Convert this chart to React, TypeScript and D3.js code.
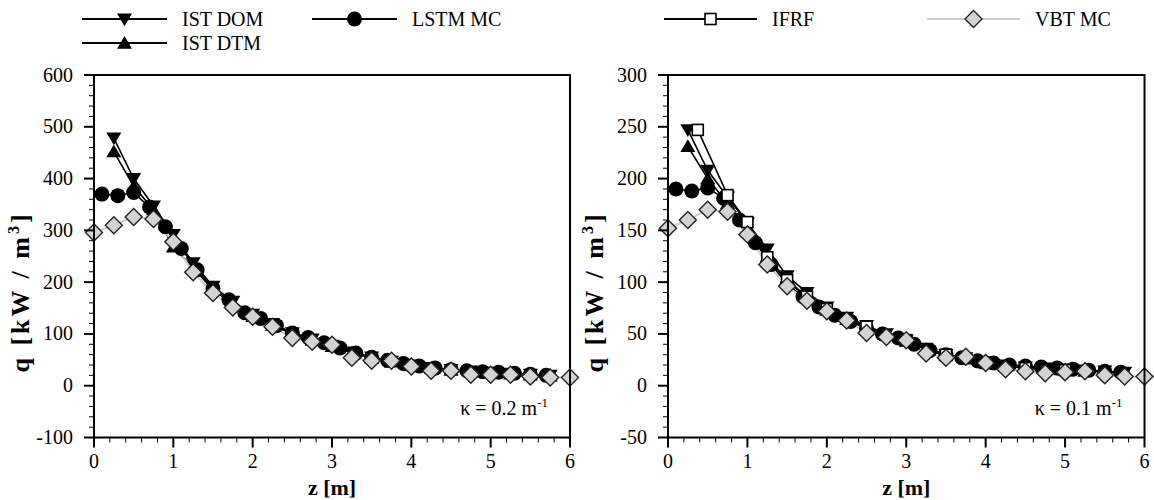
import React from "react";
import * as d3 from "d3";

// ---------- data: left panel (kappa = 0.2) ----------
const zQuarter = [0.25, 0.5, 0.75, 1.0, 1.25, 1.5, 1.75, 2.0, 2.25, 2.5, 2.75, 3.0, 3.25, 3.5, 3.75, 4.0, 4.25, 4.5, 4.75, 5.0, 5.25, 5.5, 5.75];
const zLstm = [0.1, 0.3, 0.5, 0.7, 0.9, 1.1, 1.3, 1.5, 1.7, 1.9, 2.1, 2.3, 2.5, 2.7, 2.9, 3.1, 3.3, 3.5, 3.7, 3.9, 4.1, 4.3, 4.5, 4.7, 4.9, 5.1, 5.3, 5.5, 5.7];
const zVbt = [0, 0.25, 0.5, 0.75, 1.0, 1.25, 1.5, 1.75, 2.0, 2.25, 2.5, 2.75, 3.0, 3.25, 3.5, 3.75, 4.0, 4.25, 4.5, 4.75, 5.0, 5.25, 5.5, 5.75, 6.0];
const zIfrf = [0.375, 0.75, 1.0, 1.25, 1.5, 1.75, 2.0, 2.5, 3.0, 3.5, 4.0, 4.5, 5.0];

const leftIstDom = [478, 400, 347, 292, 237, 192, 163, 138, 120, 102, 90, 78, 65, 55, 47, 40, 35, 31, 28, 26, 24, 22, 20];
const leftIstDtm = [452, 385, 340, 268, 228, 185, 158, 134, 117, 100, 88, 76, 63, 53, 46, 39, 34, 30, 27, 25, 23, 21, 19];
const leftLstm = [370, 367, 373, 345, 307, 265, 224, 188, 166, 141, 130, 116, 102, 93, 83, 73, 63, 55, 49, 43, 38, 34, 31, 29, 27, 26, 24, 22, 20];
const leftVbt = [296, 310, 326, 322, 278, 219, 179, 151, 133, 114, 92, 85, 79, 54, 48, 48, 37, 29, 29, 21, 21, 21, 18, 16, 16];

// ---------- data: right panel (kappa = 0.1) ----------
const rightIstDom = [247, 208, 182, 157, 132, 106, 90, 76, 66, 58, 50, 44, 36, 30, 27, 23, 20, 18, 17, 16, 15, 14, 13];
const rightIstDtm = [231, 200, 176, 150, 125, 100, 86, 73, 64, 56, 49, 43, 35, 29, 26, 22, 19, 17, 16, 15, 14, 13, 12];
const rightLstm = [190, 188, 191, 181, 160, 138, 117, 98, 86, 76, 68, 62, 55, 50, 46, 40, 34, 30, 27, 24, 22, 20, 19, 18, 17, 16, 15, 14, 13];
const rightIfrf = [247, 184, 158, 124, 102, 86, 74, 57, 44, 30, 22, 17, 15];
const rightVbt = [152, 160, 170, 168, 146, 117, 96, 82, 72, 63, 51, 47, 44, 31, 27, 28, 22, 16, 14, 12, 13, 14, 10, 9, 9];

// ---------- axes ----------
const xTicks = [0, 1, 2, 3, 4, 5, 6];
const leftYTicks = [-100, 0, 100, 200, 300, 400, 500, 600];
const rightYTicks = [-50, 0, 50, 100, 150, 200, 250, 300];
const seriesNames = ["IST DOM", "IST DTM", "LSTM MC", "IFRF", "VBT MC"];

const FONT = "Liberation Serif";

type Marker = "down" | "up" | "circle" | "square" | "diamond";

function MarkerShape({ type, x, y }: { type: Marker; x: number; y: number }) {
  if (type === "down") {
    const s = 7.5;
    return <path d={`M${x - s},${y - s * 0.75} L${x + s},${y - s * 0.75} L${x},${y + s * 0.95} Z`} fill="#000" />;
  }
  if (type === "up") {
    const s = 7.5;
    return <path d={`M${x - s},${y + s * 0.75} L${x + s},${y + s * 0.75} L${x},${y - s * 0.95} Z`} fill="#000" />;
  }
  if (type === "circle") return <circle cx={x} cy={y} r={7.5} fill="#000" />;
  if (type === "square")
    return <rect x={x - 5.5} y={y - 5.5} width={11} height={11} fill="#fff" stroke="#000" strokeWidth={1.6} />;
  const s = 8.5;
  return (
    <path
      d={`M${x},${y - s} L${x + s},${y} L${x},${y + s} L${x - s},${y} Z`}
      fill="#d3d3d3"
      stroke="#222"
      strokeWidth={1.4}
    />
  );
}

type Series = { name: string; z: number[]; v: number[]; marker: Marker; color: string; width: number };

function Panel({
  x0, x1, yDomain, yTicks, minorStep, series, kappa,
}: {
  x0: number; x1: number; yDomain: [number, number]; yTicks: number[]; minorStep: number; series: Series[]; kappa: string;
}) {
  const top = 75;
  const bottom = 437.5;
  const x = d3.scaleLinear().domain([0, 6]).range([x0, x1]);
  const y = d3.scaleLinear().domain(yDomain).range([bottom, top]);
  const xMinor = d3.range(0, 6.0001, 0.2).map((v) => +v.toFixed(2)).filter((v) => Math.abs(v - Math.round(v)) > 1e-6);
  const yMinor = d3.range(yDomain[0], yDomain[1] + 0.001, minorStep).filter((v) => !yTicks.includes(v));
  const line = d3.line<[number, number]>().x((d) => x(d[0])).y((d) => y(d[1]));
  return (
    <g fontFamily={FONT}>
      {series.map((s) => (
        <path
          key={s.name + "l"}
          d={line(s.z.map((z, i) => [z, s.v[i]] as [number, number])) || ""}
          fill="none"
          stroke={s.color}
          strokeWidth={s.width}
        />
      ))}
      {series.map((s) => (
        <g key={s.name + "m"}>
          {s.z.map((z, i) => (
            <MarkerShape key={i} type={s.marker} x={x(z)} y={y(s.v[i])} />
          ))}
        </g>
      ))}
      <rect x={x0} y={top} width={x1 - x0} height={bottom - top} fill="none" stroke="#000" strokeWidth={2} />
      {xTicks.map((t) => (
        <g key={"xt" + t}>
          <line x1={x(t)} x2={x(t)} y1={bottom} y2={bottom + 10} stroke="#000" strokeWidth={2} />
          <text x={x(t)} y={468} textAnchor="middle" fontFamily={FONT} fontSize={20}>{t}</text>
        </g>
      ))}
      {xMinor.map((t) => (
        <line key={"xm" + t} x1={x(t)} x2={x(t)} y1={bottom} y2={bottom + 5} stroke="#000" strokeWidth={1} />
      ))}
      {yTicks.map((t) => (
        <g key={"yt" + t}>
          <line x1={x0 - 10} x2={x0} y1={y(t)} y2={y(t)} stroke="#000" strokeWidth={2} />
          <text x={x0 - 21} y={y(t) + 6.5} textAnchor="end" fontFamily={FONT} fontSize={20}>{t}</text>
        </g>
      ))}
      {yMinor.map((t) => (
        <line key={"ym" + t} x1={x0 - 5} x2={x0} y1={y(t)} y2={y(t)} stroke="#000" strokeWidth={1} />
      ))}
      <text x={(x0 + x1) / 2} y={495} textAnchor="middle" fontFamily={FONT} fontSize={22} fontWeight="bold">z [m]</text>
      <text
        transform={`translate(${x0 - 65},292) rotate(-90)`}
        textAnchor="middle"
        fontFamily={FONT}
        fontSize={26}
        fontWeight="bold"
        letterSpacing={3}
      >
        q [kW / m<tspan dy={-10} fontSize={16}>3</tspan><tspan dy={10}>]</tspan>
      </text>
      <text x={x1 - 22} y={415} textAnchor="end" fontFamily={FONT} fontSize={20}>
        κ = {kappa} m<tspan dy={-8} fontSize={13}>-1</tspan>
      </text>
    </g>
  );
}

function LegendItem({ x1, x2, y, marker, color, width, label }: { x1: number; x2: number; y: number; marker: Marker; color: string; width: number; label: string }) {
  return (
    <g>
      <line x1={x1} x2={x2} y1={y} y2={y} stroke={color} strokeWidth={width} />
      <MarkerShape type={marker} x={(x1 + x2) / 2} y={y} />
      <text x={x2 + 15} y={y + 6.5} fontFamily={FONT} fontSize={20}>{label}</text>
    </g>
  );
}

export default function App() {
  const black = "#000";
  const gray = "#cccccc";
  const leftSeries: Series[] = [
    { name: seriesNames[0], z: zQuarter, v: leftIstDom, marker: "down", color: black, width: 1.6 },
    { name: seriesNames[1], z: zQuarter, v: leftIstDtm, marker: "up", color: black, width: 1.6 },
    { name: seriesNames[2], z: zLstm, v: leftLstm, marker: "circle", color: black, width: 1.6 },
    { name: seriesNames[4], z: zVbt, v: leftVbt, marker: "diamond", color: gray, width: 2 },
  ];
  const rightSeries: Series[] = [
    { name: seriesNames[0], z: zQuarter, v: rightIstDom, marker: "down", color: black, width: 1.6 },
    { name: seriesNames[1], z: zQuarter, v: rightIstDtm, marker: "up", color: black, width: 1.6 },
    { name: seriesNames[2], z: zLstm, v: rightLstm, marker: "circle", color: black, width: 1.6 },
    { name: seriesNames[3], z: zIfrf, v: rightIfrf, marker: "square", color: black, width: 1.6 },
    { name: seriesNames[4], z: zVbt, v: rightVbt, marker: "diamond", color: gray, width: 2 },
  ];
  return (
    <svg width={1154} height={500} fontFamily={FONT} style={{ position: "absolute", left: 0, top: 0, background: "#fff" }}>
      <rect width={1154} height={500} fill="#fff" />
      <LegendItem x1={82} x2={167} y={19} marker="down" color={black} width={2} label={seriesNames[0]} />
      <LegendItem x1={82} x2={167} y={43} marker="up" color={black} width={2} label={seriesNames[1]} />
      <LegendItem x1={312} x2={397} y={19} marker="circle" color={black} width={2} label={seriesNames[2]} />
      <LegendItem x1={664} x2={757} y={19} marker="square" color={black} width={2} label={seriesNames[3]} />
      <LegendItem x1={927} x2={1020} y={19} marker="diamond" color={gray} width={2} label={seriesNames[4]} />
      <Panel x0={94} x1={570} yDomain={[-100, 600]} yTicks={leftYTicks} minorStep={20} series={leftSeries} kappa="0.2" />
      <Panel x0={668} x1={1144.5} yDomain={[-50, 300]} yTicks={rightYTicks} minorStep={10} series={rightSeries} kappa="0.1" />
    </svg>
  );
}
